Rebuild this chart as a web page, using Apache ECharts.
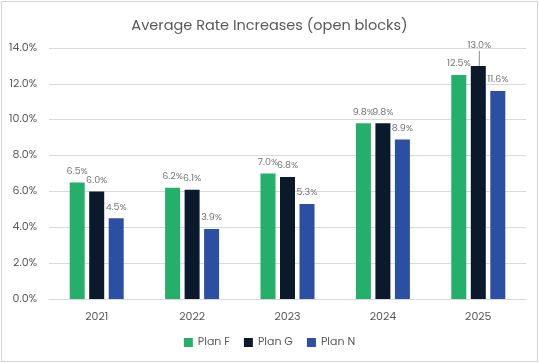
<!DOCTYPE html>
<html><head><meta charset="utf-8">
<script src="https://cdn.jsdelivr.net/npm/echarts@6/dist/echarts.min.js"></script>
<style>
html,body{margin:0;padding:0;background:#fff;}
#wrap{position:absolute;left:1px;top:1px;width:535px;height:359px;border:1px solid #d4d4d4;}
#c{width:535px;height:359px;}
</style></head>
<body><div id="wrap"><div id="c"></div></div>
<script>
const categories = ['2021','2022','2023','2024','2025'];
const planF = [6.5, 6.2, 7.0, 9.8, 12.5];
const planG = [6.0, 6.1, 6.8, 9.8, 13.0];
const planN = [4.5, 3.9, 5.3, 8.9, 11.6];
const seriesNames = ['Plan F','Plan G','Plan N'];
const colors = ['#24b06a','#0b1a2b','#2a4fa3'];
const font = 'Poppins, "Noto Sans", Lato, sans-serif';

const chart = echarts.init(document.getElementById('c'));
function mk(name, data, color, idx){
  return {
    name, type:'bar',
    data: data.map((v,i)=> (idx===1 && i===4) ? {value:v, labelLine:{show:true}} : {value:v}),
    barWidth:15, barGap:'30%',
    itemStyle:{color},
    label:{show:true, position:'top', distance:6, formatter:p=>p.value.toFixed(1)+'%', color:'#767676', fontSize:9.5, fontFamily:font},
    labelLine:{show:false, lineStyle:{color:'#8a8a8a', width:1}},
    labelLayout: function(p){
      if (idx===1 && p.dataIndex===4) return {dy:-9, dx:1};
      return {};
    }
  };
}
chart.setOption({
  animation:false,
  textStyle:{fontFamily:font},
  title:{text:'Average Rate Increases (open blocks)', left:'center', top:12,
    textStyle:{fontSize:14.5, fontWeight:'normal', color:'#595959', fontFamily:font}},
  grid:{left:47, right:11, top:46, bottom:62},
  legend:{bottom:8, itemWidth:9, itemHeight:9, itemGap:14, icon:'rect',
    textStyle:{color:'#595959', fontSize:11, fontFamily:font}},
  xAxis:{type:'category', data:categories,
    axisLine:{lineStyle:{color:'#d9d9d9'}}, axisTick:{show:false},
    axisLabel:{color:'#595959', fontSize:11, margin:13, fontFamily:font}},
  yAxis:{type:'value', min:0, max:14, interval:2,
    axisLabel:{formatter:v=>v.toFixed(1)+'%', color:'#595959', fontSize:11, margin:12, fontFamily:font},
    splitLine:{lineStyle:{color:'#d9d9d9'}}},
  series:[mk(seriesNames[0],planF,colors[0],0), mk(seriesNames[1],planG,colors[1],1), mk(seriesNames[2],planN,colors[2],2)]
});
</script></body></html>
